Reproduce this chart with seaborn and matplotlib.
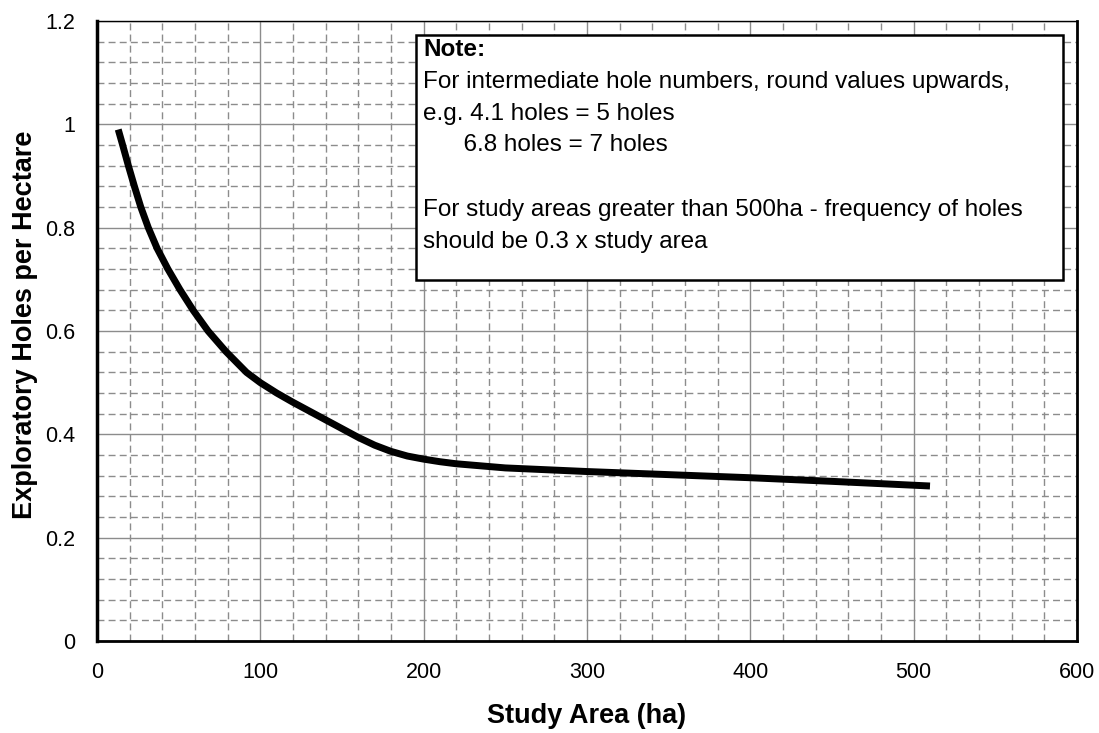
import matplotlib
matplotlib.use("Agg")
import matplotlib.pyplot as plt
import seaborn as sns
from matplotlib.ticker import MultipleLocator, FuncFormatter
from matplotlib.patches import Rectangle

# values
area_ha = [13, 15.7, 19.2, 22.9, 26.8, 31.4, 36.8, 43.4, 50.8, 58.9, 68.0, 79.0,
           91.5, 100, 110, 120, 140, 160, 170, 180, 190, 200, 210, 220, 250,
           300, 350, 400, 450, 510]
holes_per_ha = [0.99, 0.96, 0.92, 0.88, 0.84, 0.80, 0.76, 0.72, 0.68, 0.64,
                0.60, 0.56, 0.52, 0.50, 0.48, 0.462, 0.428, 0.394, 0.379,
                0.367, 0.358, 0.352, 0.347, 0.343, 0.335, 0.328, 0.322, 0.316,
                0.309, 0.30]

x_label = "Study Area (ha)"
y_label = "Exploratory Holes per Hectare"
note_title = "Note:"
note_lines = [
    "For intermediate hole numbers, round values upwards,",
    "e.g. 4.1 holes = 5 holes",
    "      6.8 holes = 7 holes",
    "",
    "For study areas greater than 500ha - frequency of holes",
    "should be 0.3 x study area",
]

sns.set_style("white")
plt.rcParams['font.family'] = ['Liberation Sans', 'DejaVu Sans']
plt.rcParams['text.color'] = 'black'
plt.rcParams['axes.labelcolor'] = 'black'
plt.rcParams['xtick.color'] = 'black'
plt.rcParams['ytick.color'] = 'black'

fig = plt.figure(figsize=(10.99, 7.33), dpi=100)
ax = fig.add_axes([97 / 1099, 1 - 641 / 733, 980 / 1099, 620 / 733])

sns.lineplot(x=area_ha, y=holes_per_ha, color="black", lw=5, ax=ax,
             solid_capstyle="butt", solid_joinstyle="round", zorder=5)

ax.set_xlim(0, 600)
ax.set_ylim(0, 1.2)
ax.xaxis.set_major_locator(MultipleLocator(100))
ax.xaxis.set_minor_locator(MultipleLocator(20))
ax.yaxis.set_major_locator(MultipleLocator(0.2))
ax.yaxis.set_minor_locator(MultipleLocator(0.04))
ax.yaxis.set_major_formatter(FuncFormatter(lambda v, p: f"{v:g}"))

ax.grid(which="major", color="#8c8c8c", lw=1.0, ls="-")
ax.grid(which="minor", color="#8c8c8c", lw=1.0, ls=(0, (5, 3)))
ax.set_axisbelow(True)

ax.tick_params(which="major", direction="inout", length=8, width=1.5,
               color="black", labelcolor="black", labelsize=15.5, pad=11)
ax.tick_params(axis="y", which="major", pad=12)
ax.tick_params(which="minor", direction="in", length=4, width=0.8, color="#555555")

for side, w in [("left", 2.5), ("bottom", 2.0), ("right", 2.0), ("top", 1.0)]:
    ax.spines[side].set_visible(True)
    ax.spines[side].set_color("black")
    ax.spines[side].set_linewidth(w)

ax.set_xlabel(x_label, fontsize=19.5, fontweight="bold", color="black")
ax.set_ylabel(y_label, fontsize=19.5, fontweight="bold", color="black")
ax.xaxis.set_label_coords(0.5, -0.1)
ax.yaxis.set_label_coords(-0.06, 0.51)

# note box
box = Rectangle((0.3255, 0.5823), 0.6602, 0.3951, transform=ax.transAxes,
                facecolor="white", edgecolor="black", lw=1.8, zorder=6)
ax.add_patch(box)
fig.text(423 / 1099, 1 - 49 / 733, note_title, fontsize=17.5, fontweight="bold",
         va="center", ha="left", color="black", zorder=7)
line_y = [82, 114, 145, 177, 210, 242]
for txt, py in zip(note_lines, line_y):
    if txt:
        fig.text(423 / 1099, 1 - py / 733, txt, fontsize=17.5, va="center",
                 ha="left", color="black", zorder=7)

fig.savefig("out.png", dpi=100)
